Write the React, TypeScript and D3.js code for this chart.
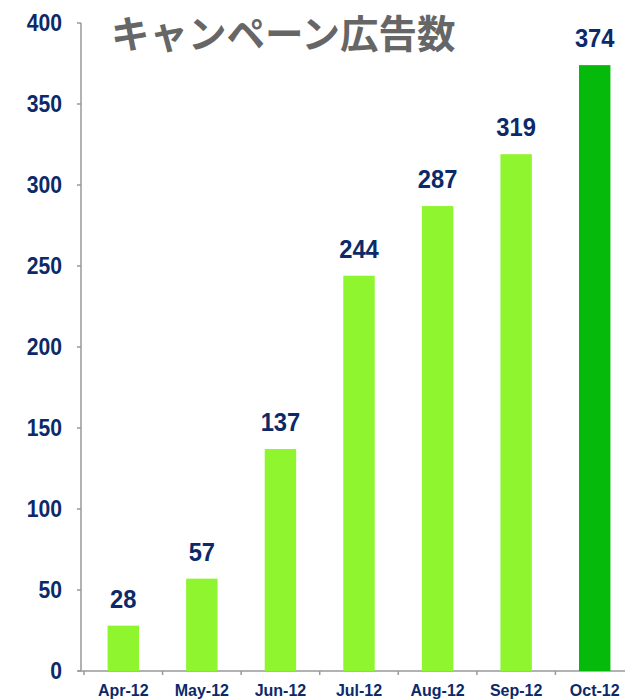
import React, { useEffect, useRef } from "react";
import * as d3 from "d3";

const MONTHS = ["Apr-12", "May-12", "Jun-12", "Jul-12", "Aug-12", "Sep-12", "Oct-12"];
const COUNTS = [28, 57, 137, 244, 287, 319, 374];
const Y_TICKS = [0, 50, 100, 150, 200, 250, 300, 350, 400];
const TITLE = "キャンペーン広告数";

const LIGHT = "#8ff52f";
const DARK = "#06ba0c";
const NAVY = "#0c2a6a";
const FONT = "'Liberation Sans', Arial, sans-serif";

export default function App() {
  const ref = useRef<SVGSVGElement>(null);

  useEffect(() => {
    const svg = d3.select(ref.current);
    svg.selectAll("*").remove();

    const x = d3
      .scaleBand()
      .domain(MONTHS)
      .range([84, 634])
      .paddingInner(0.6)
      .paddingOuter(0.3);
    const y = d3.scaleLinear().domain([0, 400]).range([671, 23]);

    // y axis
    const yAxis = svg.append("g").attr("transform", "translate(81,0)");
    yAxis
      .append("line")
      .attr("y1", y(400))
      .attr("y2", y(0))
      .attr("stroke", "#999")
      .attr("stroke-width", 1.5);
    Y_TICKS.forEach((t) => {
      yAxis
        .append("line")
        .attr("x1", -4)
        .attr("x2", 0)
        .attr("y1", y(t))
        .attr("y2", y(t))
        .attr("stroke", "#999")
        .attr("stroke-width", 1.5);
      yAxis
        .append("text")
        .attr("transform", `translate(-19,${y(t)}) scale(0.92,1)`)
        .attr("dy", "0.36em")
        .attr("text-anchor", "end")
        .attr("font-family", FONT)
        .attr("font-weight", "bold")
        .attr("font-size", 23)
        .attr("fill", NAVY)
        .text(t);
    });

    // x axis
    const [x0, x1] = x.range();
    svg
      .append("line")
      .attr("x1", 78)
      .attr("x2", x1)
      .attr("y1", y(0))
      .attr("y2", y(0))
      .attr("stroke", "#999")
      .attr("stroke-width", 1.5);
    MONTHS.forEach((m, i) => {
      const left = x0 + i * x.step();
      svg
        .append("line")
        .attr("x1", left)
        .attr("x2", left)
        .attr("y1", y(0))
        .attr("y2", y(0) + 4)
        .attr("stroke", "#999")
        .attr("stroke-width", 1.5);
      svg
        .append("text")
        .attr("x", (x(m) as number) + x.bandwidth() / 2)
        .attr("y", 696)
        .attr("text-anchor", "middle")
        .attr("font-family", FONT)
        .attr("font-weight", "bold")
        .attr("font-size", 16)
        .attr("fill", NAVY)
        .text(m);
    });

    // bars
    svg
      .selectAll("rect.bar")
      .data(COUNTS)
      .enter()
      .append("rect")
      .attr("class", "bar")
      .attr("x", (_, i) => x(MONTHS[i]) as number)
      .attr("y", (d) => y(d))
      .attr("width", x.bandwidth())
      .attr("height", (d) => y(0) - y(d))
      .attr("fill", (_, i) => (i === MONTHS.length - 1 ? DARK : LIGHT));

    // value labels
    svg
      .selectAll("text.val")
      .data(COUNTS)
      .enter()
      .append("text")
      .attr("class", "val")
      .attr(
        "transform",
        (d, i) =>
          `translate(${(x(MONTHS[i]) as number) + x.bandwidth() / 2},${y(d) - 18}) scale(0.95,1)`
      )
      .attr("text-anchor", "middle")
      .attr("font-family", FONT)
      .attr("font-weight", "bold")
      .attr("font-size", 25)
      .attr("fill", NAVY)
      .text((d) => d);

    // title
    svg
      .append("text")
      .attr("x", 111)
      .attr("y", 48)
      .attr("font-family", "'Noto Sans CJK JP', sans-serif")
      .attr("font-weight", "bold")
      .attr("font-size", 38.5)
      .attr("fill", "#666")
      .text(TITLE);
  }, []);

  return (
    <svg
      ref={ref}
      width={625}
      height={700}
      style={{ position: "fixed", left: 0, top: 0, background: "#fff" }}
    />
  );
}
